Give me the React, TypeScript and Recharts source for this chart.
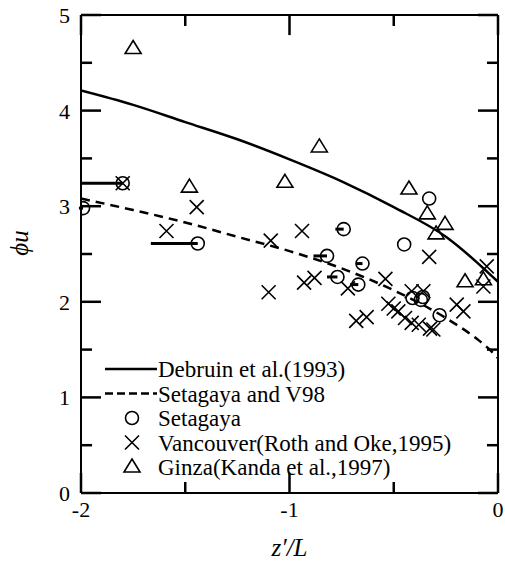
import React from 'react';
import {
  ComposedChart,
  Line,
  Scatter,
  XAxis,
  YAxis,
  ErrorBar,
  ReferenceLine,
  Legend,
} from 'recharts';

const FONT = "'Liberation Serif', 'Times New Roman', Times, serif";

// curves
const CURVE_X = [-2, -1.75, -1.5, -1.25, -1, -0.75, -0.5, -0.25, -0.1, -0.05, 0];
const DEBRUIN_Y = [4.21, 4.06, 3.88, 3.7, 3.49, 3.26, 2.99, 2.68, 2.41, 2.31, 2.21];
const SETV98_Y = [3.08, 2.96, 2.83, 2.68, 2.53, 2.35, 2.12, 1.83, 1.61, 1.52, 1.41];

// Setagaya (circles), err = leftward extent
const SETAGAYA_X = [-1.99, -1.8, -1.44, -0.74, -0.82, -0.65, -0.77, -0.67, -0.33, -0.45, -0.28, -0.41, -0.37, -0.36];
const SETAGAYA_Y = [2.98, 3.24, 2.61, 2.76, 2.48, 2.4, 2.26, 2.18, 3.08, 2.6, 1.86, 2.04, 2.02, 2.05];
const SETAGAYA_ERR = [0.02, 0.2, 0.225, 0.04, 0.065, 0.03, 0.05, 0.04, 0, 0, 0, 0, 0, 0];

// Vancouver (crosses)
const VANC_X = [-1.8, -1.445, -1.59, -1.09, -0.94, -1.1, -0.93, -0.88, -0.72, -0.54, -0.68, -0.63,
  -0.526, -0.5, -0.478, -0.446, -0.414, -0.38, -0.326, -0.31, -0.414, -0.358, -0.33, -0.198, -0.166,
  -0.054, -0.07];
const VANC_Y = [3.24, 2.99, 2.74, 2.64, 2.74, 2.1, 2.2, 2.25, 2.14, 2.24, 1.8, 1.84,
  1.98, 1.93, 1.9, 1.83, 1.78, 1.76, 1.72, 1.71, 2.11, 2.11, 2.47, 1.97, 1.9,
  2.37, 2.16];

// Ginza (triangles)
const GINZA_X = [-1.75, -1.48, -1.022, -0.857, -0.427, -0.339, -0.254, -0.297, -0.158, -0.07];
const GINZA_Y = [4.65, 3.2, 3.25, 3.62, 3.18, 2.92, 2.81, 2.71, 2.21, 2.23];

const X_TICKS = [-2, -1.5, -1, -0.5, 0];
const Y_TICKS = [0, 0.5, 1, 1.5, 2, 2.5, 3, 3.5, 4, 4.5, 5];

const LEGEND_NAMES = [
  'Debruin et al.(1993)',
  'Setagaya and V98',
  'Setagaya',
  'Vancouver(Roth and Oke,1995)',
  'Ginza(Kanda et al.,1997)',
];

const debruin = CURVE_X.map((x, i) => ({ x, y: DEBRUIN_Y[i] }));
const setv98 = CURVE_X.map((x, i) => ({ x, y: SETV98_Y[i] }));
const setagaya = SETAGAYA_X.map((x, i) => ({ x, y: SETAGAYA_Y[i], err: [SETAGAYA_ERR[i], 0] }));
const vancouver = VANC_X.map((x, i) => ({ x, y: VANC_Y[i] }));
const ginza = GINZA_X.map((x, i) => ({ x, y: GINZA_Y[i] }));

// inward tick lengths in axis units (about 20px major, 11px minor)
const X_TICK_LEN = (v: number) => (Number.isInteger(v) ? 0.21 : 0.115);
const Y_TICK_LEN = (v: number) => (Number.isInteger(v) ? 0.096 : 0.053);

const OpenCircle = ({ cx, cy }: any) => (
  <circle cx={cx} cy={cy} r={6.5} fill="none" stroke="#000" strokeWidth={1.6} />
);

const Cross = ({ cx, cy }: any) => (
  <path
    d={`M${cx - 7},${cy - 7}L${cx + 7},${cy + 7}M${cx - 7},${cy + 7}L${cx + 7},${cy - 7}`}
    stroke="#000"
    strokeWidth={1.6}
    fill="none"
  />
);

const Triangle = ({ cx, cy }: any) => (
  <path
    d={`M${cx},${cy - 8}L${cx + 8},${cy + 5}L${cx - 8},${cy + 5}Z`}
    stroke="#000"
    strokeWidth={1.6}
    fill="none"
  />
);

function renderXTick(props: any) {
  const v = props.payload.value;
  if (!Number.isInteger(v)) return <g />;
  return (
    <text x={props.x} y={Number(props.y) + 24} textAnchor="middle" fontFamily={FONT} fontSize={22} fill="#000">
      {String(v)}
    </text>
  );
}

function renderYTick(props: any) {
  const v = props.payload.value;
  if (!Number.isInteger(v)) return <g />;
  return (
    <text x={Number(props.x) - 11} y={Number(props.y) + 8} textAnchor="end" fontFamily={FONT} fontSize={22} fill="#000">
      {String(v)}
    </text>
  );
}

const LegendContent = () => {
  const rows = [369, 393.5, 418, 442.5, 467].map((v) => v - 358);
  return (
    <svg width={390} height={125} style={{ overflow: 'visible' }}>
      <line x1={5} x2={57} y1={rows[0]} y2={rows[0]} stroke="#000" strokeWidth={2.5} />
      <line x1={5} x2={57} y1={rows[1]} y2={rows[1]} stroke="#000" strokeWidth={2.5} strokeDasharray="8 4" />
      <OpenCircle cx={32} cy={rows[2]} />
      <Cross cx={32} cy={rows[3]} />
      <Triangle cx={32} cy={rows[4]} />
      {LEGEND_NAMES.map((name, i) => (
        <text key={name} x={58} y={rows[i] + 8} fontFamily={FONT} fontSize={23} fill="#000">
          {name}
        </text>
      ))}
    </svg>
  );
};

export default function App() {
  return (
    <div style={{ position: 'absolute', left: 0, top: 0, width: 505, height: 571, background: '#fff' }}>
      <ComposedChart width={505} height={571} margin={{ top: 15, right: 7, bottom: 77, left: 80 }}>
        <XAxis
          type="number"
          dataKey="x"
          domain={[-2, 0]}
          ticks={X_TICKS}
          allowDataOverflow
          height={1}
          tickSize={0}
          tickMargin={0}
          tickLine={false}
          tick={renderXTick}
          axisLine={{ stroke: '#000', strokeWidth: 2 }}
          interval={0}
        />
        <YAxis
          type="number"
          dataKey="y"
          domain={[0, 5]}
          ticks={Y_TICKS}
          allowDataOverflow
          width={1}
          tickSize={0}
          tickMargin={0}
          tickLine={false}
          tick={renderYTick}
          axisLine={{ stroke: '#000', strokeWidth: 2 }}
          interval={0}
        />
        <ReferenceLine y={5} stroke="#000" strokeWidth={2} />
        <ReferenceLine x={0} stroke="#000" strokeWidth={2} />
        {X_TICKS.map((v) => (
          <ReferenceLine
            key={`xb${v}`}
            segment={[{ x: v, y: 0 }, { x: v, y: X_TICK_LEN(v) }]}
            stroke="#000"
            strokeWidth={2.5}
            ifOverflow="visible"
          />
        ))}
        {X_TICKS.map((v) => (
          <ReferenceLine
            key={`xt${v}`}
            segment={[{ x: v, y: 5 }, { x: v, y: 5 - X_TICK_LEN(v) }]}
            stroke="#000"
            strokeWidth={2.5}
            ifOverflow="visible"
          />
        ))}
        {Y_TICKS.map((v) => (
          <ReferenceLine
            key={`yl${v}`}
            segment={[{ x: -2, y: v }, { x: -2 + Y_TICK_LEN(v), y: v }]}
            stroke="#000"
            strokeWidth={2.5}
            ifOverflow="visible"
          />
        ))}
        {Y_TICKS.map((v) => (
          <ReferenceLine
            key={`yr${v}`}
            segment={[{ x: 0, y: v }, { x: -Y_TICK_LEN(v), y: v }]}
            stroke="#000"
            strokeWidth={2.5}
            ifOverflow="visible"
          />
        ))}
        <Line
          data={debruin}
          dataKey="y"
          type="monotone"
          stroke="#000"
          strokeWidth={2.5}
          dot={false}
          activeDot={false}
          isAnimationActive={false}
        />
        <Line
          data={setv98}
          dataKey="y"
          type="monotone"
          stroke="#000"
          strokeWidth={2.5}
          strokeDasharray="9 6"
          dot={false}
          activeDot={false}
          isAnimationActive={false}
        />
        <Scatter data={setagaya} shape={<OpenCircle />} isAnimationActive={false}>
          <ErrorBar dataKey="err" direction="x" width={0} stroke="#000" strokeWidth={3} />
        </Scatter>
        <Scatter data={vancouver} shape={<Cross />} isAnimationActive={false} />
        <Scatter data={ginza} shape={<Triangle />} isAnimationActive={false} />
        <Legend
          layout="vertical"
          align="center"
          verticalAlign="middle"
          content={<LegendContent />}
          wrapperStyle={{ left: 100, top: 358, width: 390, height: 125 }}
        />
        <text x={289.5} y={556} textAnchor="middle" fontFamily={FONT} fontStyle="italic" fontSize={25} fill="#000">
          z′/L
        </text>
        <text
          x={28}
          y={243}
          textAnchor="middle"
          transform="rotate(-90 28 243)"
          fontFamily={FONT}
          fontStyle="italic"
          fontSize={25}
          fill="#000"
        >
          ϕu
        </text>
      </ComposedChart>
    </div>
  );
}
